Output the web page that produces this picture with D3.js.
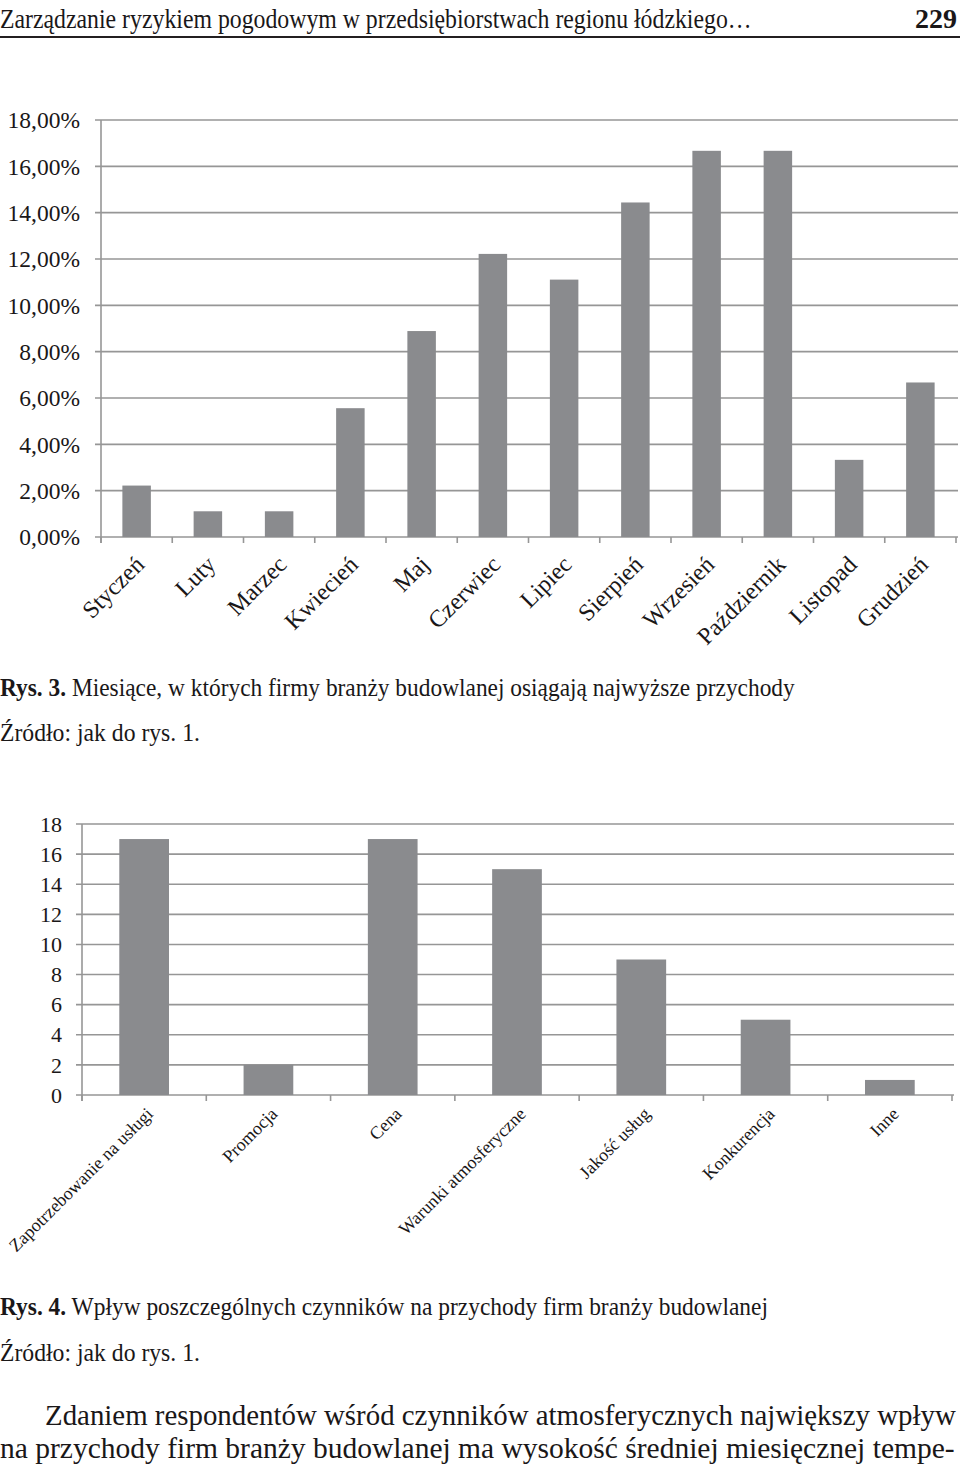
<!DOCTYPE html>
<meta charset="utf-8">
<script src="https://cdn.jsdelivr.net/npm/d3@7"></script>
<style>
body { margin: 0; background: #fff; }
text {
  font-family: "Times New Roman", Tinos, "Liberation Serif", Times, serif;
  fill: #1a1718;
}
.grid line { stroke: #969696; stroke-width: 1.6px; }
.bar { fill: #8a8b8e; }
</style>
<body>
<div id="page"></div>
<script>
// Rys. 3 data (percent of firms)
var months = ["Styczeń", "Luty", "Marzec", "Kwiecień", "Maj", "Czerwiec", "Lipiec",
              "Sierpień", "Wrzesień", "Październik", "Listopad", "Grudzień"];
var monthShare = [2.22, 1.11, 1.11, 5.56, 8.89, 12.22, 11.11, 14.44, 16.67, 16.67, 3.33, 6.67];
var pctTicks = [0, 2, 4, 6, 8, 10, 12, 14, 16, 18];

// Rys. 4 data (number of answers)
var factors = ["Zapotrzebowanie na usługi", "Promocja", "Cena", "Warunki atmosferyczne",
               "Jakość usług", "Konkurencja", "Inne"];
var factorCount = [17, 2, 17, 15, 9, 5, 1];
var countTicks = [0, 2, 4, 6, 8, 10, 12, 14, 16, 18];

var width = 960, height = 1465;
var svg = d3.select("#page").append("svg")
    .attr("width", width)
    .attr("height", height);

var pl = d3.formatLocale({decimal: ",", thousands: " ", grouping: [3], currency: ["", " zł"]});
var fmt2 = pl.format(".2f");

// condensed line of text: real font size, squeezed horizontally to a given width
function squeezed(x, y, size, w, parts) {
    var g = svg.append("g");
    var t = g.append("text").attr("x", 0).attr("y", 0).attr("font-size", size);
    parts.forEach(function(p) {
        var s = t.append("tspan").text(p.text);
        if (p.bold) s.attr("font-weight", "bold");
    });
    var natural = t.node().getComputedTextLength();
    var sx = Math.min(1, w / natural);
    g.attr("transform", "translate(" + x + "," + y + ") scale(" + sx + ",1)");
    return g;
}

// page header
squeezed(0, 28, 28, 752, [{text: "Zarządzanie ryzykiem pogodowym w przedsiębiorstwach regionu łódzkiego…"}]);
svg.append("text")
    .attr("x", 957).attr("y", 28)
    .attr("text-anchor", "end")
    .attr("font-size", 28).attr("font-weight", "bold")
    .text("229");
svg.append("line")
    .attr("x1", 0).attr("x2", 960)
    .attr("y1", 37).attr("y2", 37)
    .attr("stroke", "#231f20").attr("stroke-width", 2);

function barChart(opt) {
    var x = d3.scaleBand()
        .domain(opt.cats)
        .range([opt.left, opt.right])
        .paddingInner(0.6)
        .paddingOuter(0.3);
    var y = d3.scaleLinear()
        .domain([0, 18])
        .range([opt.bottom, opt.top]);

    // gridlines incl. small tick on the left
    var grid = svg.append("g").attr("class", "grid");
    grid.selectAll("line")
        .data(opt.ticks)
        .enter().append("line")
        .attr("x1", opt.left - 6).attr("x2", opt.right + 2)
        .attr("y1", function(d) { return y(d); })
        .attr("y2", function(d) { return y(d); });

    // y axis line
    grid.append("line")
        .attr("x1", opt.left).attr("x2", opt.left)
        .attr("y1", opt.top).attr("y2", opt.bottom + 6);

    // category tick marks
    var bounds = opt.cats.map(function(c, i) { return opt.left + i * x.step(); });
    bounds.push(opt.right);
    grid.selectAll("line.ct")
        .data(bounds)
        .enter().append("line")
        .attr("class", "ct")
        .attr("x1", function(d) { return d; }).attr("x2", function(d) { return d; })
        .attr("y1", opt.bottom).attr("y2", opt.bottom + 6);

    svg.append("g").selectAll("rect")
        .data(opt.values)
        .enter().append("rect")
        .attr("class", "bar")
        .attr("x", function(d, i) { return x(opt.cats[i]); })
        .attr("width", x.bandwidth())
        .attr("y", function(d) { return y(d); })
        .attr("height", function(d) { return opt.bottom - y(d); });

    svg.append("g").selectAll("text")
        .data(opt.ticks)
        .enter().append("text")
        .attr("x", opt.labelX)
        .attr("y", function(d) { return y(d); })
        .attr("dy", "0.35em")
        .attr("text-anchor", "end")
        .attr("font-size", opt.tickSize)
        .text(opt.format);

    svg.append("g").selectAll("text")
        .data(opt.cats)
        .enter().append("text")
        .attr("transform", function(d) {
            return "translate(" + (x(d) + x.bandwidth() / 2 + opt.dx) + "," + (opt.bottom + opt.dy) + ") rotate(-45)";
        })
        .attr("text-anchor", "end")
        .attr("font-size", opt.catSize)
        .text(function(d) { return d; });
}

barChart({
    cats: months, values: monthShare, ticks: pctTicks,
    left: 101, right: 956, top: 120, bottom: 537,
    labelX: 80, tickSize: 23.5, catSize: 24, dx: 9, dy: 29,
    format: function(d) { return fmt2(d) + "%"; }
});

barChart({
    cats: factors, values: factorCount, ticks: countTicks,
    left: 82, right: 952, top: 824, bottom: 1095,
    labelX: 62, tickSize: 22, catSize: 18, dx: 10, dy: 20,
    format: function(d) { return d; }
});

// captions
squeezed(0, 696, 25, 795, [{text: "Rys. 3.", bold: true}, {text: " Miesiące, w których firmy branży budowlanej osiągają najwyższe przychody"}]);
squeezed(0, 741, 25, 200, [{text: "Źródło: jak do rys. 1."}]);
squeezed(0, 1315, 25, 768, [{text: "Rys. 4.", bold: true}, {text: " Wpływ poszczególnych czynników na przychody firm branży budowlanej"}]);
squeezed(0, 1361, 25, 200, [{text: "Źródło: jak do rys. 1."}]);

// body text
squeezed(45, 1425, 30, 911, [{text: "Zdaniem respondentów wśród czynników atmosferycznych największy wpływ"}]);
squeezed(0, 1458, 30, 955, [{text: "na przychody firm branży budowlanej ma wysokość średniej miesięcznej tempe-"}]);
</script>
</body>
</html>
